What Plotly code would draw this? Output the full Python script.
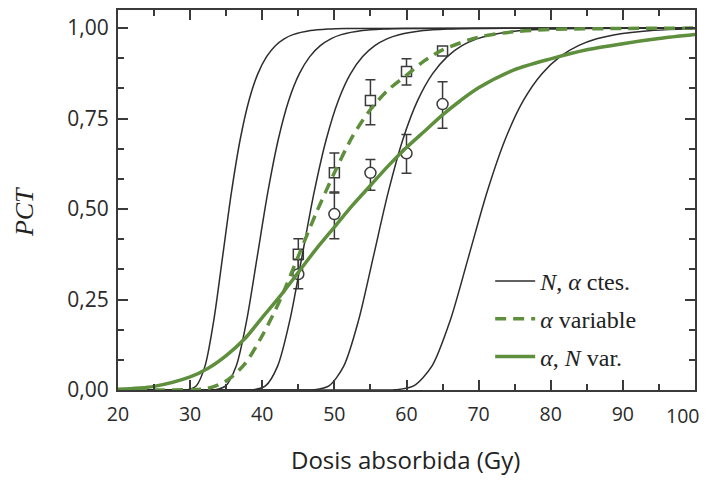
import plotly.graph_objects as go

# ---------------- data ----------------
# Black curves (N, alpha constant): dose / TCP samples
c1_dose = [20, 28.40, 29.62, 30.84, 32.06, 33.28, 34.50, 35.72, 36.94, 38.16, 39.38, 40.60, 41.82, 43.04, 44.26, 46.70, 49.13, 51.57, 100]
c2_dose = [20, 32.01, 33.47, 34.93, 36.39, 37.84, 39.30, 40.76, 42.22, 43.67, 45.13, 46.59, 48.05, 49.50, 50.96, 53.88, 56.79, 59.71, 100]
c3_dose = [20, 37.08, 38.77, 40.45, 42.13, 43.82, 45.50, 47.18, 48.87, 50.55, 52.23, 53.92, 55.60, 57.28, 58.97, 62.34, 65.70, 69.07, 100]
c4_dose = [20, 45.15, 47.20, 49.25, 51.30, 53.35, 55.40, 57.45, 59.50, 61.55, 63.60, 65.65, 67.69, 69.74, 71.79, 75.89, 79.99, 84.09, 100]
c5_dose = [20, 55.91, 58.45, 60.99, 63.52, 66.06, 68.60, 71.14, 73.68, 76.21, 78.75, 81.29, 83.83, 86.37, 88.90, 93.98, 99.06, 100]
c1_tcp = [0, 0.0000, 0.0006, 0.0113, 0.0660, 0.1923, 0.3679, 0.5452, 0.6922, 0.8001, 0.8734, 0.9212, 0.9514, 0.9703, 0.9819, 0.9933, 0.9975, 0.9991, 1.0]
c2_tcp = [0, 0.0000, 0.0006, 0.0113, 0.0660, 0.1923, 0.3679, 0.5452, 0.6922, 0.8001, 0.8734, 0.9212, 0.9514, 0.9703, 0.9819, 0.9933, 0.9975, 0.9991, 1.0]
c3_tcp = [0, 0.0000, 0.0006, 0.0113, 0.0660, 0.1923, 0.3679, 0.5452, 0.6922, 0.8001, 0.8734, 0.9212, 0.9514, 0.9703, 0.9819, 0.9933, 0.9975, 0.9991, 1.0]
c4_tcp = [0, 0.0000, 0.0006, 0.0113, 0.0660, 0.1923, 0.3679, 0.5452, 0.6922, 0.8001, 0.8734, 0.9212, 0.9514, 0.9703, 0.9819, 0.9933, 0.9975, 0.9991, 1.0]
c5_tcp = [0, 0.0000, 0.0006, 0.0113, 0.0660, 0.1923, 0.3679, 0.5452, 0.6922, 0.8001, 0.8734, 0.9212, 0.9514, 0.9703, 0.9819, 0.9933, 0.9975, 0.9980]

# Green dashed (alpha variable)
var_dose = [20, 25, 30, 32.5, 35, 37.5, 40, 42.5, 45, 47.5, 50, 52.5, 55, 57.5, 60, 62.5, 65, 70, 75, 80, 90, 100]
var_tcp = [0, 0.0, 0.001, 0.005, 0.025, 0.07, 0.15, 0.25, 0.37, 0.49, 0.60, 0.70, 0.775, 0.83, 0.87, 0.91, 0.94, 0.975, 0.99, 0.996, 0.999, 1.0]

# Green solid (alpha, N variable)
an_dose = [20, 25, 30, 32.5, 35, 37.5, 40, 42.5, 45, 47.5, 50, 52.5, 55, 57.5, 60, 62.5, 65, 67.5, 70, 75, 80, 85, 90, 95, 100]
an_tcp = [0.002, 0.01, 0.036, 0.06, 0.095, 0.14, 0.20, 0.26, 0.325, 0.39, 0.45, 0.51, 0.565, 0.62, 0.67, 0.715, 0.76, 0.80, 0.835, 0.885, 0.915, 0.94, 0.957, 0.971, 0.982]

# Measured points
sq_dose = [45, 50, 55, 60, 65]
sq_tcp = [0.375, 0.60, 0.80, 0.88, 0.937]
sq_err_up = [0.043, 0.055, 0.057, 0.035, 0.0]
sq_err_dn = [0.043, 0.053, 0.067, 0.037, 0.0]

ci_dose = [45, 50, 55, 60, 65]
ci_tcp = [0.32, 0.486, 0.60, 0.654, 0.79]
ci_err_up = [0.04, 0.058, 0.037, 0.052, 0.062]
ci_err_dn = [0.04, 0.068, 0.048, 0.055, 0.067]

y_tickvals = [0, 0.25, 0.5, 0.75, 1.0]
y_ticktext = ["0,00", "0,25", "0,50", "0,75", "1,00"]
y_minor = [1/12, 2/12, 4/12, 5/12, 7/12, 8/12, 10/12, 11/12]
x_tickvals = [20, 30, 40, 50, 60, 70, 80, 90, 100]
x_ticktext = ["20", "30", "40", "50", "60", "70", "80", "90", "100"]

legend_names = ["<i>N</i>, <i>α</i> ctes.", "<i>α</i> variable", "<i>α</i>, <i>N</i> var."]

# ---------------- styles ----------------
GREEN = "#5e8f3c"
DARK = "#2d2d2d"
AX = "#3a3a3a"
TICKFONT = dict(family="Open Sans", size=19.5, color="#2a2a2a")

fig = go.Figure()

err_style = dict(type="data", symmetric=False, color=AX, thickness=1.5, width=5)

fig.add_trace(go.Scatter(
    x=sq_dose, y=sq_tcp, mode="markers", showlegend=False,
    marker=dict(symbol="square", size=10, color="white", line=dict(color=AX, width=1.5)),
    error_y=dict(array=sq_err_up, arrayminus=sq_err_dn, **err_style)))
fig.add_trace(go.Scatter(
    x=ci_dose, y=ci_tcp, mode="markers", showlegend=False,
    marker=dict(symbol="circle", size=11, color="white", line=dict(color=AX, width=1.5)),
    error_y=dict(array=ci_err_up, arrayminus=ci_err_dn, **err_style)))

for i, (xs, ys) in enumerate([(c1_dose, c1_tcp), (c2_dose, c2_tcp), (c3_dose, c3_tcp),
                              (c4_dose, c4_tcp), (c5_dose, c5_tcp)]):
    fig.add_trace(go.Scatter(
        x=xs, y=ys, mode="lines", name=legend_names[0], legendgroup="g1",
        showlegend=(i == 0),
        line=dict(color=DARK, width=1.5, shape="spline", smoothing=0.8)))

fig.add_trace(go.Scatter(
    x=var_dose, y=var_tcp, mode="lines", name=legend_names[1], legendgroup="g2",
    line=dict(color=GREEN, width=3.5, dash="11px,7px", shape="spline", smoothing=0.8)))
fig.add_trace(go.Scatter(
    x=an_dose, y=an_tcp, mode="lines", name=legend_names[2], legendgroup="g3",
    line=dict(color=GREEN, width=3.5, shape="spline", smoothing=0.8)))

axis_common = dict(
    showline=True, linecolor=AX, linewidth=2, mirror="allticks",
    ticks="inside", ticklen=10, tickwidth=1.5, tickcolor=AX,
    showgrid=False, zeroline=False, ticklabeloverflow="allow",
)

# the last x label sits at the right page edge; it is drawn as an annotation
# anchored on its right side so that it stays inside the visible page
x_axis_labels = x_ticktext[:-1] + [""]

fig.update_xaxes(range=[20, 100], tickmode="array", tickvals=x_tickvals, ticktext=x_axis_labels,
                 minor=dict(ticks="inside", ticklen=6, tickwidth=1.5, tickcolor=AX,
                            tickmode="linear", tick0=25, dtick=10, showgrid=False),
                 tickfont=TICKFONT, ticklabelstandoff=6, **axis_common)
fig.update_yaxes(range=[0, 1.05], tickmode="array", tickvals=y_tickvals, ticktext=y_ticktext,
                 minor=dict(ticks="inside", ticklen=6, tickwidth=1.5, tickcolor=AX,
                            tickmode="array", tickvals=y_minor, showgrid=False),
                 tickfont=dict(family="Open Sans", size=21, color="#2a2a2a"),
                 ticklabelstandoff=3, **axis_common)

fig.update_layout(
    width=702, height=469,
    margin=dict(l=110, r=15, t=0, b=87),
    paper_bgcolor="white", plot_bgcolor="white",
    showlegend=True,
    legend=dict(x=0.645, y=0.345, xanchor="left", yanchor="top",
                bgcolor="rgba(0,0,0,0)", borderwidth=0,
                tracegroupgap=3.5, itemwidth=40,
                font=dict(family="Liberation Serif", size=24, color="#222")),
    annotations=[
        dict(text="<i>PCT</i>", xref="paper", yref="paper", x=-0.163, y=0.468,
             xanchor="center", yanchor="middle", textangle=-90, showarrow=False,
             font=dict(family="Liberation Serif", size=26, color="#222")),
        dict(text="Dosis absorbida (Gy)", xref="paper", yref="paper", x=0.499, y=-0.182,
             xanchor="center", yanchor="middle", showarrow=False,
             font=dict(family="Open Sans", size=24, color="#222")),
        dict(text=x_ticktext[-1], xref="x", yref="paper", x=x_tickvals[-1], y=0,
             xanchor="right", yanchor="middle", xshift=6, yshift=-25,
             showarrow=False, font=TICKFONT),
    ],
)

fig.write_html("out.html", config={"displayModeBar": False})
